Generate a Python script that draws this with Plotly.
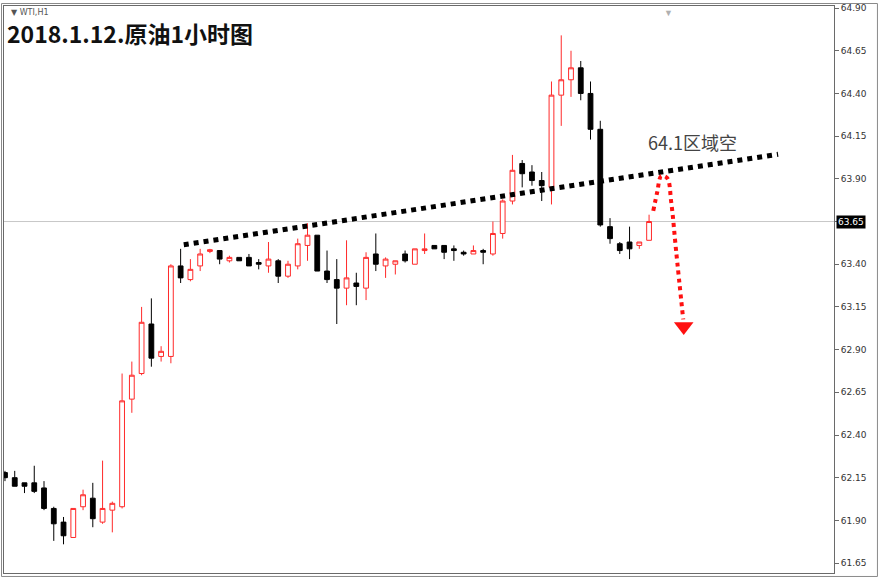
import plotly.graph_objects as go

# ---- data ----
opens  = [62.18, 62.15, 62.12, 62.12, 62.09, 61.97, 61.89, 61.80, 61.98, 62.03,
          61.89, 61.96, 61.98, 62.61, 62.76, 63.05, 62.86, 62.86, 63.39, 63.31,
          63.39, 63.475, 63.48, 63.42, 63.44, 63.44, 63.41, 63.39, 63.42, 63.33,
          63.39, 63.51, 63.57, 63.36, 63.31, 63.26, 63.29, 63.26, 63.46, 63.39,
          63.40, 63.46, 63.40, 63.48, 63.51, 63.51, 63.49, 63.47, 63.46, 63.48,
          63.46, 63.58, 63.77, 63.99, 63.94, 63.89, 63.85, 64.39, 64.48, 64.55,
          64.40, 64.19, 63.62, 63.52, 63.53, 63.51, 63.54]
highs  = [62.19, 62.19, 62.12, 62.22, 62.13, 61.98, 61.92, 61.97, 62.08, 62.12,
          62.25, 62.01, 62.76, 62.83, 63.15, 63.20, 62.92, 63.40, 63.49, 63.43,
          63.49, 63.49, 63.48, 63.45, 63.44, 63.46, 63.43, 63.53, 63.43, 63.42,
          63.55, 63.64, 63.57, 63.48, 63.43, 63.54, 63.35, 63.47, 63.58, 63.44,
          63.42, 63.48, 63.49, 63.58, 63.51, 63.51, 63.51, 63.48, 63.51, 63.49,
          63.65, 63.78, 64.04, 64.01, 63.98, 63.94, 64.47, 64.74, 64.65, 64.59,
          64.47, 64.24, 63.67, 63.53, 63.62, 63.53, 63.69]
lows   = [62.13, 62.10, 62.06, 62.06, 61.96, 61.78, 61.76, 61.80, 61.96, 61.86,
          61.88, 61.83, 61.97, 62.53, 62.75, 62.80, 62.83, 62.82, 63.29, 63.30,
          63.36, 63.465, 63.40, 63.41, 63.42, 63.39, 63.37, 63.35, 63.29, 63.32,
          63.37, 63.42, 63.36, 63.29, 63.05, 63.16, 63.16, 63.19, 63.36, 63.32,
          63.34, 63.41, 63.40, 63.46, 63.49, 63.43, 63.42, 63.45, 63.46, 63.40,
          63.45, 63.55, 63.75, 63.85, 63.86, 63.77, 63.75, 64.21, 64.38, 64.36,
          64.13, 63.62, 63.52, 63.46, 63.43, 63.49, 63.54]
closes = [62.15, 62.10, 62.10, 62.07, 61.97, 61.88, 61.81, 61.97, 62.05, 61.91,
          61.97, 62.00, 62.60, 62.75, 63.06, 62.85, 62.89, 63.39, 63.32, 63.37,
          63.46, 63.485, 63.43, 63.44, 63.42, 63.39, 63.40, 63.43, 63.33, 63.40,
          63.52, 63.57, 63.36, 63.31, 63.26, 63.32, 63.27, 63.44, 63.40, 63.43,
          63.42, 63.42, 63.49, 63.49, 63.49, 63.47, 63.48, 63.46, 63.48, 63.47,
          63.58, 63.77, 63.95, 63.93, 63.89, 63.86, 64.39, 64.48, 64.55, 64.40,
          64.19, 63.63, 63.55, 63.48, 63.49, 63.53, 63.65]
bars = list(range(len(opens)))

tick_vals = [61.65, 61.90, 62.15, 62.40, 62.65, 62.90, 63.15, 63.40, 63.65,
             63.90, 64.15, 64.40, 64.65, 64.90]
tick_text = ["61.65", "61.90", "62.15", "62.40", "62.65", "62.90", "63.15",
             "63.40", "", "63.90", "64.15", "64.40", "64.65", "64.90"]
last_price = 63.65
last_label = "63.65"

trend_x = [18.32, 79.22]
trend_y = [63.514, 64.044]

arrow_x = [66.43, 66.84, 67.25, 67.86, 68.27, 68.78, 69.50]
arrow_y = [63.712, 63.823, 63.916, 63.904, 63.764, 63.473, 63.077]
arrow_head_x = [69.55]
arrow_head_y = [63.035]

title_text = "2018.1.12.原油1小时图"
symbol_text = "▼ WTI,H1"
note_text = "64.1区域空"
note_x, note_y = 70.4, 64.114

# ---- layout geometry ----
W, H = 878, 577
ML, MR, MT, MB = 3, 44, 3, 4
PW, PH = W - ML - MR, H - MT - MB

def px(xp):
    return (xp - ML) / PW

def py(yp):
    return (H - MB - yp) / PH

RED = "#ff2a2a"

fig = go.Figure()
fig.add_trace(go.Candlestick(
    x=bars, open=opens, high=highs, low=lows, close=closes,
    increasing=dict(line=dict(color=RED, width=1), fillcolor="white"),
    decreasing=dict(line=dict(color="black", width=1), fillcolor="black"),
    whiskerwidth=0, hoverinfo="skip", showlegend=False,
))
fig.add_trace(go.Scatter(
    x=trend_x, y=trend_y, mode="lines",
    line=dict(color="black", width=5, dash="5px,5px"),
    hoverinfo="skip", showlegend=False,
))
fig.add_trace(go.Scatter(
    x=arrow_x, y=arrow_y, mode="lines",
    line=dict(color="#ff1010", width=4, dash="4px,4px", shape="spline"),
    hoverinfo="skip", showlegend=False,
))
fig.add_trace(go.Scatter(
    x=arrow_head_x, y=arrow_head_y, mode="markers",
    marker=dict(symbol="triangle-down", size=17, color="#ff1010"),
    hoverinfo="skip", showlegend=False,
))

fig.add_shape(type="line", xref="paper", yref="y", x0=0, x1=1,
              y0=last_price, y1=last_price, line=dict(color="#c8c8c8", width=1),
              layer="below")
# outer frame of the window
fig.add_shape(type="rect", xref="paper", yref="paper",
              x0=px(0.5), x1=px(W - 0.5), y0=py(H - 0.5), y1=py(0.5),
              line=dict(color="#8a8a8a", width=1))

fig.add_annotation(xref="paper", yref="paper", x=px(4), y=py(30),
                   xanchor="left", yanchor="middle", showarrow=False,
                   text="<b>" + title_text + "</b>",
                   font=dict(family="Noto Sans CJK SC", size=23, color="#111111"))
fig.add_annotation(xref="paper", yref="paper", x=px(8), y=py(10),
                   xanchor="left", yanchor="middle", showarrow=False,
                   text=symbol_text,
                   font=dict(family="DejaVu Sans", size=8, color="#555555"))
fig.add_annotation(xref="x", yref="y", x=note_x, y=note_y,
                   xanchor="center", yanchor="middle", showarrow=False,
                   text=note_text,
                   font=dict(family="Noto Sans CJK SC", size=18, color="#444444"))
fig.add_annotation(xref="paper", yref="y", x=1, y=last_price,
                   xanchor="left", yanchor="middle", xshift=2, showarrow=False,
                   text=last_label, bgcolor="black", borderpad=1,
                   font=dict(family="DejaVu Sans", size=9, color="white"))
fig.add_annotation(xref="paper", yref="paper", x=px(668), y=py(1),
                   xanchor="center", yanchor="top", showarrow=False,
                   text="▼", font=dict(size=9, color="#b0b0b0"))

fig.update_layout(
    width=W, height=H,
    margin=dict(l=ML, r=MR, t=MT, b=MB),
    paper_bgcolor="white", plot_bgcolor="white",
    showlegend=False,
    xaxis=dict(range=[-0.1, 84.95], rangeslider=dict(visible=False),
               showgrid=False, zeroline=False, showticklabels=False, ticks="",
               showline=True, mirror=True, linecolor="#6a6a6a", linewidth=1),
    yaxis=dict(range=[61.592, 64.912], side="right", showgrid=False,
               zeroline=False, tickmode="array", tickvals=tick_vals,
               ticktext=tick_text, ticks="outside", ticklen=4,
               tickcolor="#6a6a6a",
               tickfont=dict(family="DejaVu Sans", size=9, color="#333333"),
               showline=True, mirror=True, linecolor="#6a6a6a", linewidth=1),
)

fig.write_html("out.html",
               config={"displayModeBar": False},
               post_script="document.body.style.margin='0';"
                           "document.body.style.overflow='hidden';")
